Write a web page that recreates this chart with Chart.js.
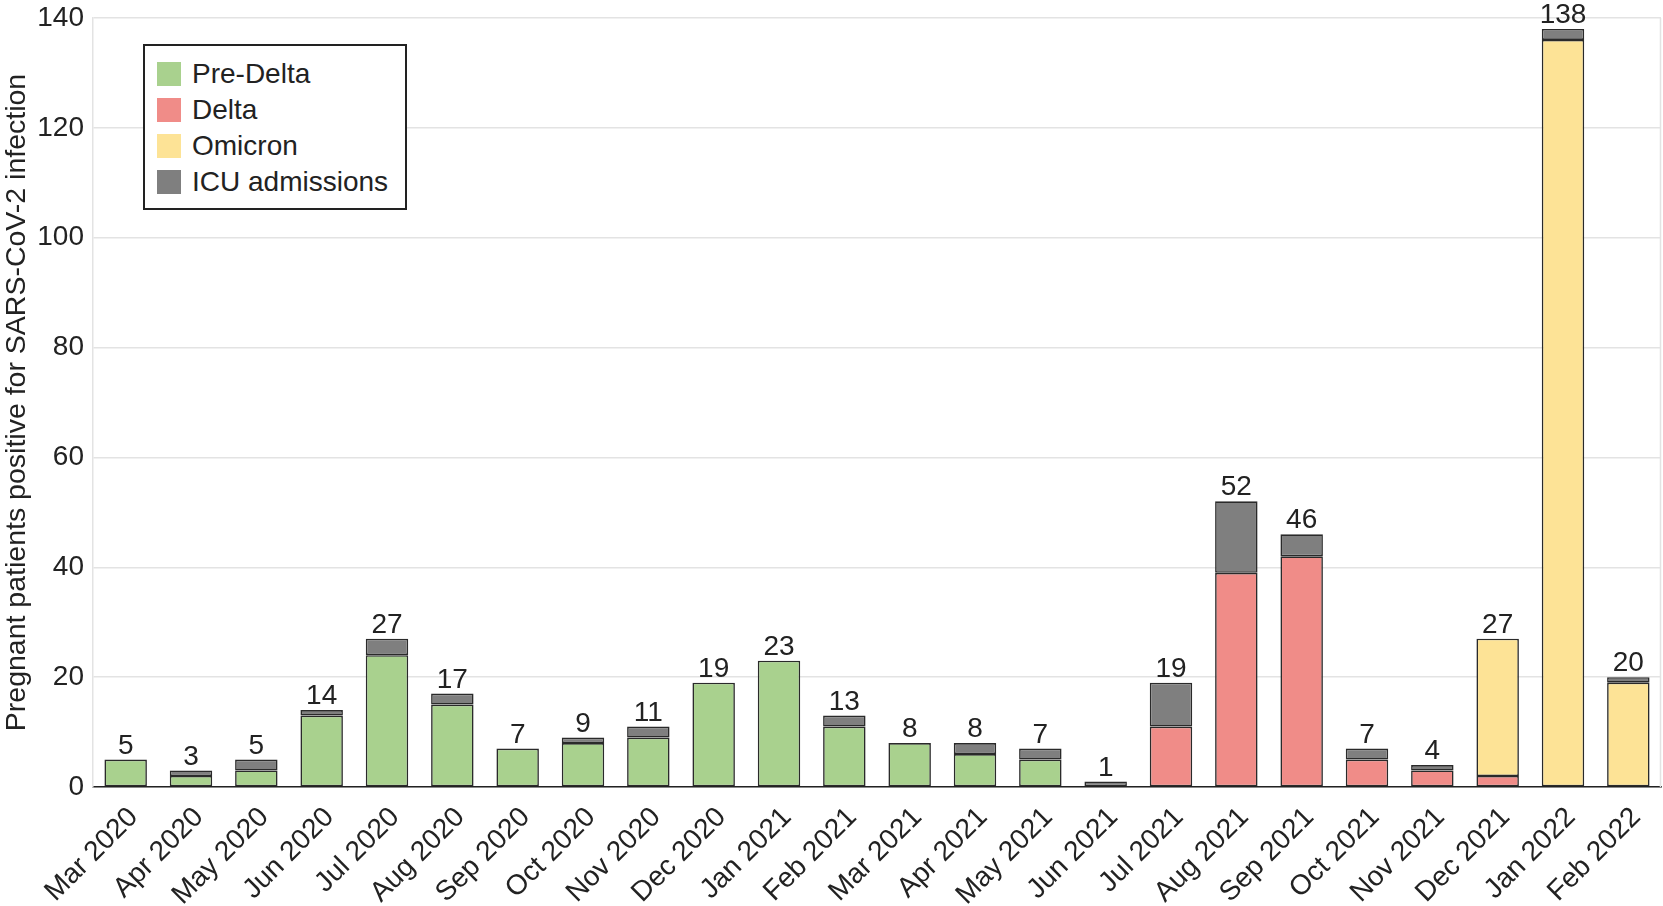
<!DOCTYPE html>
<html>
<head>
<meta charset="utf-8">
<script src="https://cdn.jsdelivr.net/npm/chart.js@4/dist/chart.umd.min.js"></script>
<style>
  html, body { margin: 0; padding: 0; background: #fff; }
  #wrap { position: relative; width: 1663px; height: 906px; }
  #legend {
    position: absolute; left: 143px; top: 44px; width: 260px; height: 162px;
    border: 2px solid #222; background: #fff; box-sizing: content-box;
    font-family: "Liberation Sans", Arial, sans-serif; font-size: 28px; color: #222;
  }
  .item { position: absolute; left: 12px; height: 28px; display: flex; align-items: center; }
  .sw { width: 24px; height: 24px; margin-right: 11px; }
</style>
</head>
<body>
<div id="wrap">
  <canvas id="c" width="1663" height="906"></canvas>
  <div id="legend"></div>
</div>
<script>
const months = ["Mar 2020","Apr 2020","May 2020","Jun 2020","Jul 2020","Aug 2020","Sep 2020","Oct 2020","Nov 2020","Dec 2020","Jan 2021","Feb 2021","Mar 2021","Apr 2021","May 2021","Jun 2021","Jul 2021","Aug 2021","Sep 2021","Oct 2021","Nov 2021","Dec 2021","Jan 2022","Feb 2022"];
const preDelta = [5,2,3,13,24,15,7,8,9,19,23,11,8,6,5,0,0,0,0,0,0,0,0,0];
const delta    = [0,0,0,0,0,0,0,0,0,0,0,0,0,0,0,0,11,39,42,5,3,2,0,0];
const omicron  = [0,0,0,0,0,0,0,0,0,0,0,0,0,0,0,0,0,0,0,0,0,25,136,19];
const icu      = [0,1,2,1,3,2,0,1,2,0,0,2,0,2,2,1,8,13,4,2,1,0,2,1];
const yTicks = [0,20,40,60,80,100,120,140];
const yTitle = "Pregnant patients positive for SARS-CoV-2 infection";

const seriesNames = ["Pre-Delta","Delta","Omicron","ICU admissions"];
const seriesColors = ["#a9d18e","#f08c88","#fde396","#7f7f7f"];
const seriesData = [preDelta, delta, omicron, icu];

const FONT = "'Liberation Sans', Arial, sans-serif";

const legendEl = document.getElementById('legend');
seriesNames.forEach((n, i) => {
  const d = document.createElement('div');
  d.className = 'item';
  d.style.top = (14 + i * 36) + 'px';
  d.innerHTML = '<div class="sw" style="background:' + seriesColors[i] + '"></div><span>' + n + '</span>';
  legendEl.appendChild(d);
});

const totals = months.map((_, i) => seriesData.reduce((s, arr) => s + arr[i], 0));

const totalsPlugin = {
  id: 'totals',
  afterDatasetsDraw(chart) {
    const ctx = chart.ctx;
    const y = chart.scales.y, x = chart.scales.x;
    ctx.save();
    ctx.font = "28px " + FONT;
    ctx.fillStyle = "#222";
    ctx.textAlign = "center";
    ctx.textBaseline = "alphabetic";
    totals.forEach((t, i) => {
      ctx.fillText(String(t), x.getPixelForValue(i), y.getPixelForValue(t) - 6);
    });
    ctx.restore();
  }
};
const framePlugin = {
  id: 'frame',
  beforeDatasetsDraw(chart) {
    const a = chart.chartArea, ctx = chart.ctx;
    ctx.save();
    ctx.strokeStyle = "#e3e3e3";
    ctx.lineWidth = 1.5;
    ctx.beginPath();
    ctx.moveTo(a.right - 0.5, a.top);
    ctx.lineTo(a.right - 0.5, a.bottom);
    ctx.stroke();
    ctx.restore();
  }
};

new Chart(document.getElementById('c'), {
  type: 'bar',
  data: {
    labels: months,
    datasets: seriesData.map((arr, i) => ({
      label: seriesNames[i],
      data: arr.map(v => v === 0 ? null : v),
      backgroundColor: seriesColors[i],
      borderColor: "#2a2a2a",
      borderWidth: 1.6,
      borderSkipped: false,
      categoryPercentage: 1,
      barPercentage: 0.65
    }))
  },
  options: {
    responsive: false,
    animation: false,
    devicePixelRatio: 1,
    layout: { padding: { top: 18, right: 2, left: 0, bottom: 0 } },
    plugins: { legend: { display: false }, tooltip: { enabled: false } },
    scales: {
      x: {
        stacked: true,
        grid: { display: false, drawTicks: false },
        border: { display: true, color: "#222", width: 1.5 },
        ticks: {
          font: { family: FONT, size: 28 }, color: "#222",
          maxRotation: 45, minRotation: 45, autoSkip: false, padding: 14, labelOffset: 8
        },
        afterFit(s) { s.height = 119; s.paddingLeft = 0; s.paddingRight = 0; }
      },
      y: {
        stacked: true,
        min: 0, max: 140,
        afterBuildTicks(s) { s.ticks = yTicks.map(v => ({ value: v })); },
        grid: { color: "#e3e3e3", lineWidth: 1.5, drawTicks: false },
        border: { display: true, color: "#e3e3e3", width: 1.5 },
        ticks: { font: { family: FONT, size: 28 }, color: "#222", padding: 9 },
        title: { display: true, text: yTitle, font: { family: FONT, size: 28.5 }, color: "#222", padding: { top: 0, bottom: 1 } },
        afterFit(s) { s.width = 93; s.paddingTop = 0; s.paddingBottom = 0; }
      }
    }
  },
  plugins: [totalsPlugin, framePlugin]
});
</script>
</body>
</html>
